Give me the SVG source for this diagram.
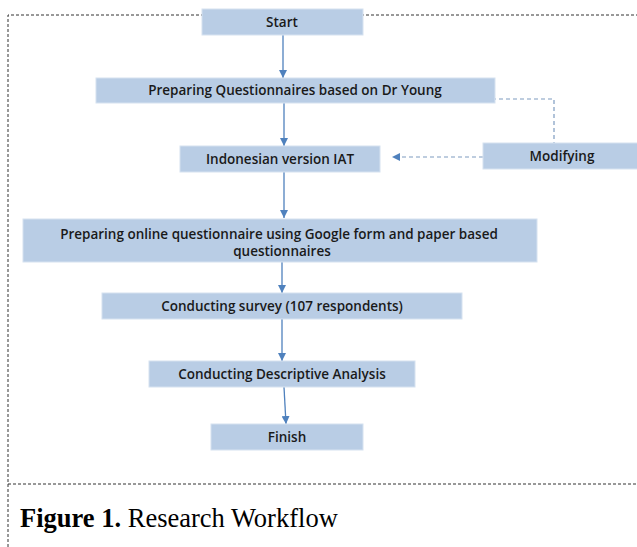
<svg xmlns="http://www.w3.org/2000/svg" width="637" height="547" viewBox="0 0 637 547">
<defs>
<style>
.box{fill:#b9cde5;stroke:#d6e2f0;stroke-width:1}
.lbl{font-family:"Open Sans","DejaVu Sans",sans-serif;font-weight:600;font-size:13.5px;fill:#1a1a1a;text-anchor:middle}
.con{stroke:#4f81bd;stroke-width:1.3;fill:none}
.dash{stroke:#7e9cc0;stroke-width:1.2;fill:none;stroke-dasharray:4 3}
.frame{stroke:#333;stroke-width:1;fill:none;stroke-dasharray:3 2}
.cap{font-family:"Liberation Serif","Times New Roman",serif;font-size:26.5px;fill:#000}
</style>
<marker id="ah" viewBox="0 0 10 10" refX="10" refY="5" markerWidth="8" markerHeight="8" markerUnits="userSpaceOnUse" orient="auto">
<path d="M0,0 L10,5 L0,10 z" fill="#4f81bd"/>
</marker>
<marker id="ahd" viewBox="0 0 10 10" refX="10" refY="5" markerWidth="8" markerHeight="8" markerUnits="userSpaceOnUse" orient="auto">
<path d="M0,0 L10,5 L0,10 z" fill="#4f81bd"/>
</marker>
</defs>
<rect width="637" height="547" fill="#fff"/>
<g id="frame">
<path class="frame" d="M8,547 V15 H637"/>
<path class="frame" d="M8,484 H637"/>
</g>
<g id="connectors">
<path class="dash" d="M478,99 H554 V143"/>
<path class="dash" d="M483,157 H392" marker-end="url(#ahd)"/>
<path class="con" d="M283,35 V78" marker-end="url(#ah)"/>
<path class="con" d="M284,103 V146" marker-end="url(#ah)"/>
<path class="con" d="M284,172 V218" marker-end="url(#ah)"/>
<path class="con" d="M282,247 V293" marker-end="url(#ah)"/>
<path class="con" d="M282,319 V361" marker-end="url(#ah)"/>
<path class="con" d="M284,387 L286,424" marker-end="url(#ah)"/>
</g>
<g id="start"><rect class="box" x="202" y="9" width="161" height="26"/><text class="lbl" x="282" y="27">Start</text></g>
<g id="prepq"><rect class="box" x="96" y="78" width="399" height="25"/><text class="lbl" x="295" y="95">Preparing Questionnaires based on Dr Young</text></g>
<g id="modifying"><rect class="box" x="483" y="143" width="160" height="26"/><text class="lbl" x="562" y="161">Modifying</text></g>
<g id="iat"><rect class="box" x="180" y="146" width="200" height="26"/><text class="lbl" x="280" y="164">Indonesian version IAT</text></g>
<g id="online"><rect class="box" x="23" y="219" width="514" height="43"/><text class="lbl" x="279" y="239">Preparing online questionnaire using Google form and paper based</text><text class="lbl" x="282" y="256">questionnaires</text></g>
<g id="survey"><rect class="box" x="102" y="293" width="360" height="26"/><text class="lbl" x="282" y="311">Conducting survey (107 respondents)</text></g>
<g id="descriptive"><rect class="box" x="149" y="361" width="266" height="26"/><text class="lbl" x="282" y="379">Conducting Descriptive Analysis</text></g>
<g id="finish"><rect class="box" x="211" y="424" width="152" height="26"/><text class="lbl" x="287" y="442">Finish</text></g>
<text class="cap" x="20" y="527"><tspan font-weight="bold">Figure 1.</tspan> Research Workflow</text>
</svg>
